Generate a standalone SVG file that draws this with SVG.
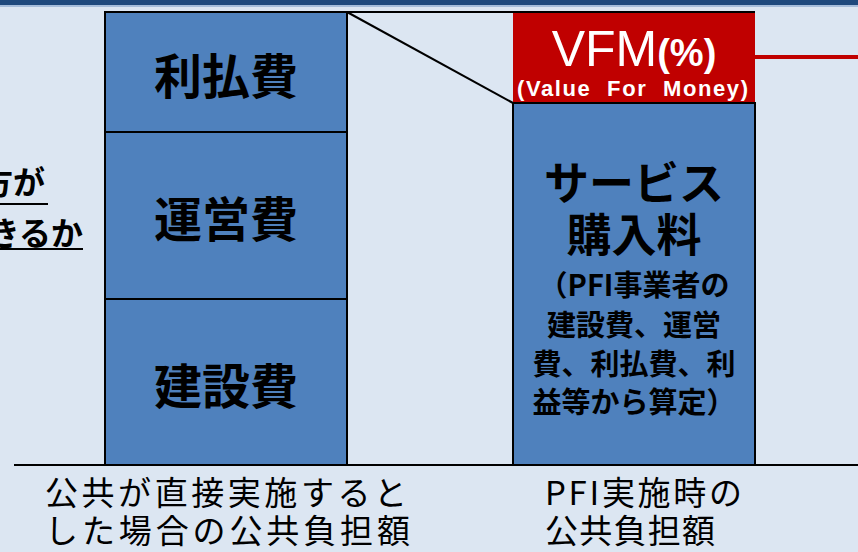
<svg xmlns="http://www.w3.org/2000/svg" width="858" height="552" viewBox="0 0 858 552">
<style>
.bg{fill:#DCE6F2}
.box{fill:#4F81BD;stroke:#000;stroke-width:2}
.ln{stroke:#000;stroke-width:2;fill:none}
.jb{font-family:"Noto Sans CJK JP","Noto Sans",sans-serif;font-weight:700;fill:#000}
.jn{font-family:"Noto Sans CJK JP","Noto Sans",sans-serif;font-weight:400;fill:#000}
.big{font-size:48px;text-anchor:middle}
.mid{font-size:45px;text-anchor:middle}
.sm{font-size:29px;text-anchor:middle}
.lbl{font-size:33px}
.wt{font-family:"Liberation Sans",Arial,sans-serif;fill:#fff}
</style>
<rect class="bg" x="0" y="0" width="858" height="552"/>
<rect x="0" y="0" width="858" height="5" fill="#1F497D"/>
<rect x="0" y="5" width="858" height="2" fill="#A6BDDB"/>

<g id="question">
<text class="jb" x="45" y="194" font-size="32" text-anchor="end">方が</text>
<text class="jb" x="83" y="245" font-size="32" text-anchor="end">できるか</text>
<line x1="0" y1="204" x2="48" y2="204" stroke="#000" stroke-width="2"/>
<line x1="0" y1="249" x2="83" y2="249" stroke="#000" stroke-width="2"/>
</g>

<g id="public-stack">
<rect class="box" x="105" y="12" width="242" height="453"/>
<line class="ln" x1="105" y1="132" x2="347" y2="132"/>
<line class="ln" x1="105" y1="299" x2="347" y2="299"/>
<text class="jb big" x="226" y="94">利払費</text>
<text class="jb big" x="226" y="237">運営費</text>
<text class="jb big" x="226" y="404">建設費</text>
</g>

<g id="vfm">
<rect x="513" y="12" width="242" height="91" fill="#C00000"/>
<text class="wt" x="634" y="66" text-anchor="middle"><tspan font-size="50">VFM</tspan><tspan font-size="38" font-weight="700">(%)</tspan></text>
<text class="wt" x="517" y="96" font-size="22" font-weight="700" word-spacing="8" textLength="231" lengthAdjust="spacing">(Value For Money)</text>
</g>

<g id="pfi-box">
<rect class="box" x="513" y="103" width="242" height="362"/>
<text class="jb mid" x="634" y="200">サービス</text>
<text class="jb mid" x="634" y="252">購入料</text>
<text class="jb sm" x="634" y="296">（PFI事業者の</text>
<text class="jb sm" x="634" y="336">建設費、運営</text>
<text class="jb sm" x="634" y="375">費、利払費、利</text>
<text class="jb sm" x="634" y="413">益等から算定）</text>
</g>

<g id="connectors">
<line class="ln" x1="347" y1="12" x2="755" y2="12"/>
<line class="ln" x1="347" y1="12" x2="513" y2="103"/>
<line x1="755" y1="57" x2="858" y2="57" stroke="#C00000" stroke-width="4"/>
<line class="ln" x1="14" y1="465" x2="858" y2="465"/>
</g>

<g id="labels">
<text class="jn lbl" x="45" y="505" textLength="362" lengthAdjust="spacing">公共が直接実施すると</text>
<text class="jn lbl" x="45" y="543" textLength="365" lengthAdjust="spacing">した場合の公共負担額</text>
<text class="jn lbl" x="545" y="505" textLength="197" lengthAdjust="spacing">PFI実施時の</text>
<text class="jn lbl" x="545" y="543" textLength="170" lengthAdjust="spacing">公共負担額</text>
</g>
</svg>
